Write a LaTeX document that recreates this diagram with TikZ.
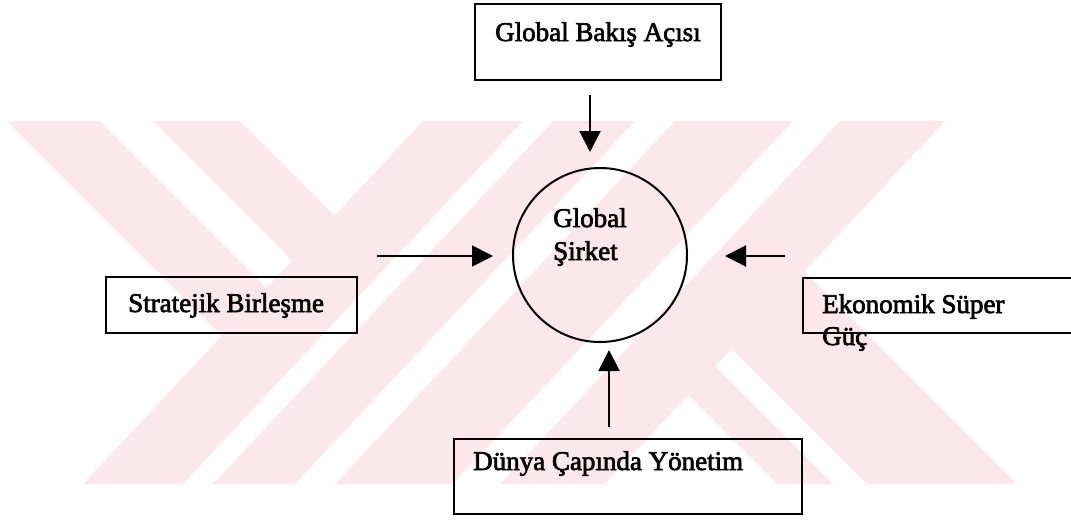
\documentclass[tikz,border=0pt]{standalone}
\usepackage{fontspec}
\setmainfont{Liberation Serif}
\newfontfamily\lblfont{Liberation Serif}[FakeBold=2.5]
\usetikzlibrary{arrows.meta}
\definecolor{wmpink}{RGB}{252,232,236}
\begin{document}
\begin{tikzpicture}[x=1pt,y=-1pt,
  boxframe/.style={draw, line width=1.9pt, rectangle, inner sep=0pt},
  lbl/.style={inner sep=0pt, font=\lblfont\fontsize{27pt}{33pt}\selectfont, anchor=base west},
  arr/.style={line width=2pt, -{Triangle[length=21pt,width=21pt]}}]
\useasboundingbox (0,0) rectangle (1071,520);
\clip (0,0) rectangle (1071,520);

% background watermark
\begin{scope}
  \clip (7,121) rectangle (1014,484);
  % long rising bands (top x-range; bottom shifted by 340)
  \foreach \a/\b in {423/523, 553/635, 675/793, 840/945}{
    \fill[wmpink] (\a,121) -- (\b,121) -- (\b-340,484) -- (\a-340,484) -- cycle;
  }
  % short falling arms on the left, ending inside the first rising band
  \begin{scope}
    \clip (0,121) -- (473,121) -- (133,484) -- (0,484) -- cycle;
    \foreach \a/\b in {-114/-21, 32/119}{
      \fill[wmpink] (121+\a,121) -- (121+\b,121) -- (484+\b,484) -- (484+\a,484) -- cycle;
    }
  \end{scope}
  % falling legs on the right, starting inside the last rising band
  \begin{scope}
    \clip (892,121) -- (1071,121) -- (1071,484) -- (552,484) -- cycle;
    \foreach \a/\b in {293/349, 383/533}{
      \fill[wmpink] (121+\a,121) -- (121+\b,121) -- (484+\b,484) -- (484+\a,484) -- cycle;
    }
  \end{scope}
\end{scope}

% boxes
\node[boxframe, minimum width=246pt, minimum height=76pt] (gba) at (598,42) {};
\node[lbl] (gbat) at (495,41) {Global Bakış Açısı};

\node[boxframe, minimum width=251pt, minimum height=56pt] (sb) at (231.5,305) {};
\node[lbl] (sbt) at (128,312) {Stratejik Birleşme};

\node[boxframe, minimum width=297pt, minimum height=55pt] (es) at (951.5,305.5) {};
\node[lbl] (est1) at (822,313) {Ekonomik Süper};
\node[lbl] (est2) at (822,345) {Güç};

\node[boxframe, minimum width=348pt, minimum height=75pt] (dy) at (628,476.5) {};
\node[lbl] (dyt) at (473,470) {Dünya Çapında Yönetim};

% central circle
\node[draw, circle, line width=2pt, minimum size=174pt, inner sep=0pt] (gs) at (600,255) {};
\node[lbl] (gst1) at (553,227) {Global};
\node[lbl] (gst2) at (553,260) {Şirket};

% arrow end points
\coordinate (t1) at (590,95);   \coordinate (t2) at (590,152);
\coordinate (l1) at (377,256);  \coordinate (l2) at (493,256);
\coordinate (r1) at (785,256);  \coordinate (r2) at (725,256);
\coordinate (b1) at (609,427);  \coordinate (b2) at (609,350);

\draw[arr] (t1) -- (t2);
\draw[arr] (l1) -- (l2);
\draw[arr] (r1) -- (r2);
\draw[arr] (b1) -- (b2);
\end{tikzpicture}
\end{document}
